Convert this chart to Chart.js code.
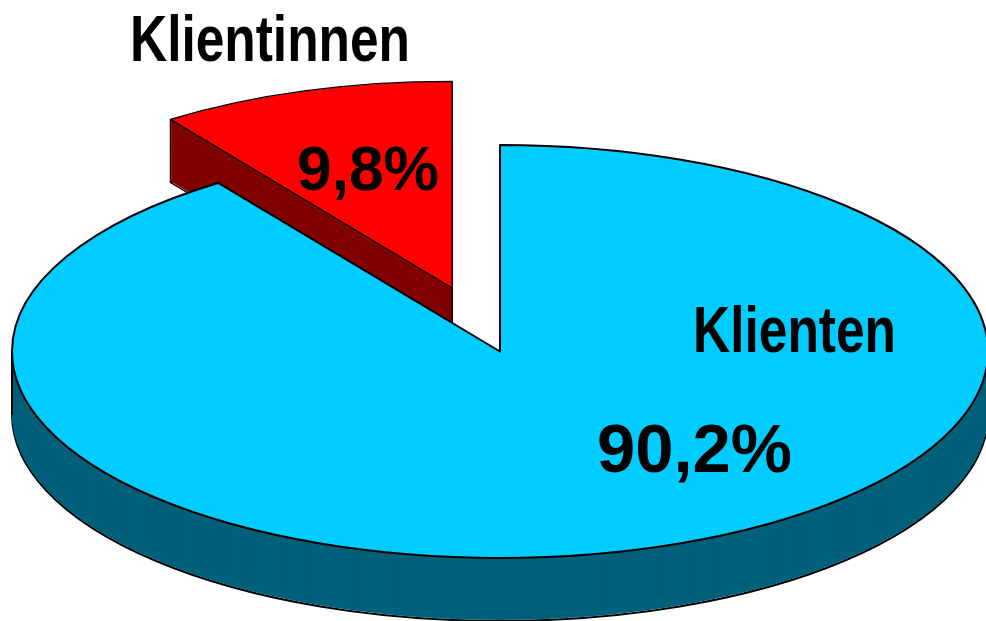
<!DOCTYPE html>
<html>
<head>
<meta charset="utf-8">
<script src="https://cdn.jsdelivr.net/npm/chart.js@4"></script>
<style>
  html, body { margin: 0; padding: 0; background: #fff; overflow: hidden; }
  #chart { display: block; }
</style>
</head>
<body>
<canvas id="chart" width="986" height="621"></canvas>
<script>
const categories = ["Klienten", "Klientinnen"];
const shares = [90.2, 9.8];
const topColors = ["#00CCFF", "#FF0000"];
const sideColors = ["#00607A", "#800000"];

// tilted pie: Chart.js computes the arcs, this plugin squashes them into an ellipse and adds depth
const pie3d = {
  id: "pie3d",
  beforeDatasetsDraw(chart, args, opts) {
    const ctx = chart.ctx;
    const arcs = chart.getDatasetMeta(0).data;
    const dpr = chart.currentDevicePixelRatio || 1;
    const R = arcs[0].outerRadius;
    const sx = opts.rx / R, sy = opts.ry / R;

    const slicePath = (a, i, dy) => {
      const mid = (a.startAngle + a.endAngle) / 2;
      const ox = Math.cos(mid) * opts.explode[i] * R;
      const oy = Math.sin(mid) * opts.explode[i] * R;
      ctx.setTransform(dpr, 0, 0, dpr, 0, 0);
      ctx.translate(opts.cx, opts.cy + dy);
      ctx.scale(sx, sy);
      ctx.translate(-a.x, -a.y);
      ctx.beginPath();
      ctx.moveTo(a.x + ox, a.y + oy);
      ctx.arc(a.x + ox, a.y + oy, a.outerRadius, a.startAngle, a.endAngle);
      ctx.closePath();
      ctx.setTransform(dpr, 0, 0, dpr, 0, 0);
    };

    const toScreen = (a, i, ang, r) => {
      const mid = (a.startAngle + a.endAngle) / 2;
      const ox = Math.cos(mid) * opts.explode[i];
      const oy = Math.sin(mid) * opts.explode[i];
      return [opts.cx + (ox + Math.cos(ang) * r) * opts.rx,
              opts.cy + (oy + Math.sin(ang) * r) * opts.ry];
    };

    ctx.save();
    opts.order.forEach(i => {
      const a = arcs[i];
      const lw = a.options.borderWidth;
      ctx.strokeStyle = a.options.borderColor;
      ctx.lineJoin = "round";

      // bottom outline first, side layers cover its hidden parts
      slicePath(a, i, opts.depth);
      ctx.lineWidth = lw;
      ctx.stroke();
      ctx.fillStyle = sideColors[i];
      for (let d = opts.depth - 1; d >= 1; d--) {
        slicePath(a, i, d);
        ctx.fill();
      }

      // vertical edges at the corners and at the left/right extremes
      const corners = [toScreen(a, i, 0, 0), toScreen(a, i, a.startAngle, 1), toScreen(a, i, a.endAngle, 1)];
      [Math.PI, 2 * Math.PI, 0].forEach(t => {
        let s = a.startAngle, e = a.endAngle;
        if ((t >= s && t <= e) || (t + 2 * Math.PI >= s && t + 2 * Math.PI <= e)) corners.push(toScreen(a, i, t, 1));
      });
      ctx.beginPath();
      corners.forEach(p => {
        ctx.moveTo(p[0], p[1]);
        ctx.lineTo(p[0], p[1] + opts.depth);
      });
      ctx.stroke();

      // top face
      slicePath(a, i, 0);
      ctx.fillStyle = a.options.backgroundColor;
      ctx.fill();
      ctx.stroke();
    });
    ctx.restore();
    return false;
  },
  afterDraw(chart, args, opts) {
    const ctx = chart.ctx;
    ctx.save();
    ctx.fillStyle = "#000";
    ctx.textAlign = "left";
    ctx.textBaseline = "alphabetic";
    categories.forEach((name, i) => {
      const n = opts.names[i];
      ctx.font = n.font;
      ctx.fillText(name, n.x, n.y, n.w);
      const v = opts.values[i];
      ctx.font = v.font;
      ctx.fillText(shares[i].toFixed(1).replace(".", ",") + "%", v.x, v.y, v.w);
    });
    ctx.restore();
  }
};

const nameFont = 'bold 64px "Liberation Sans Narrow", "Arial Narrow", "Liberation Sans", Arial, sans-serif';

new Chart(document.getElementById("chart"), {
  type: "pie",
  data: {
    labels: categories,
    datasets: [{
      data: shares,
      backgroundColor: topColors,
      borderColor: "#000",
      borderWidth: [2, 1.2]
    }]
  },
  options: {
    responsive: false,
    devicePixelRatio: 1,
    animation: false,
    layout: { padding: 0 },
    events: [],
    plugins: {
      legend: { display: false },
      tooltip: { enabled: false },
      pie3d: {
        cx: 500, cy: 351.5, rx: 488, ry: 206.5, depth: 63,
        explode: [0, 0.323],
        order: [1, 0],
        names: [
          { x: 693, y: 352, w: 203, font: nameFont },
          { x: 130, y: 61, w: 280, font: nameFont }
        ],
        values: [
          { x: 597, y: 472, w: 195, font: 'bold 69px "Liberation Sans", Arial, sans-serif' },
          { x: 297, y: 190, w: 142, font: 'bold 63px "Liberation Sans", Arial, sans-serif' }
        ]
      }
    }
  },
  plugins: [pie3d]
});
</script>
</body>
</html>
